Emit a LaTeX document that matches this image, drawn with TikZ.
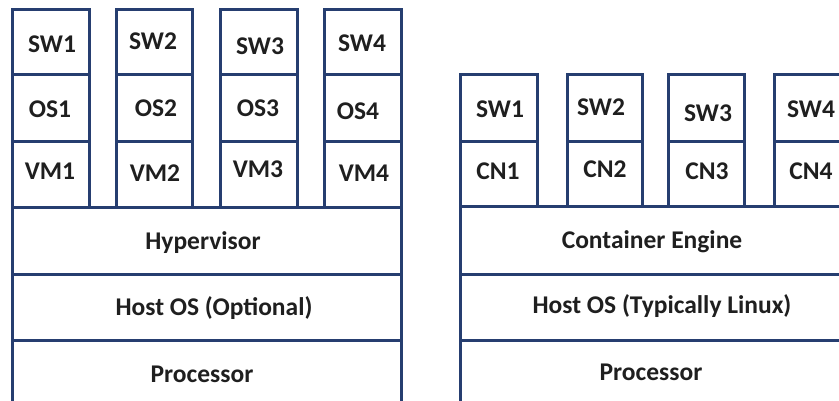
\documentclass[tikz,border=0pt]{standalone}
\usepackage{fontspec}
\setmainfont{Carlito}
\definecolor{navy}{RGB}{38,62,112}
\tikzset{
  box/.style={draw=navy, line width=3pt, inner sep=0pt, fill=none},
  lbl/.style={anchor=base, inner sep=0pt, text=black!88,
    font=\fontsize{25.5}{25.5}\selectfont\bfseries},
}
% box from corner (x1,y1) to (x2,y2), y measured downwards
\newcommand{\layerbox}[5]{%
  \node[box, minimum width={#4-#2}, minimum height={#5-#3}]
    (#1) at ({(#2+#4)/2},{(#3+#5)/2}) {};}
\begin{document}
\begin{tikzpicture}[x=1pt,y=-1pt]
\useasboundingbox (0,0) rectangle (839,401);
\clip (0,0) rectangle (839,401);
\fill[white] (0,0) rectangle (839,401);

% ---------- virtual machines ----------
\layerbox{vsw1}{12}{10}{89}{75}
\layerbox{vos1}{12}{75}{89}{142}
\layerbox{vvm1}{12}{142}{89}{208}
\layerbox{vsw2}{116}{10}{192}{75}
\layerbox{vos2}{116}{75}{192}{142}
\layerbox{vvm2}{116}{142}{192}{208}
\layerbox{vsw3}{220}{10}{297}{75}
\layerbox{vos3}{220}{75}{297}{142}
\layerbox{vvm3}{220}{142}{297}{208}
\layerbox{vsw4}{324}{10}{401}{75}
\layerbox{vos4}{324}{75}{401}{142}
\layerbox{vvm4}{324}{142}{401}{208}
\layerbox{hyp}{12}{208}{401}{274}
\layerbox{vhost}{12}{274}{401}{340}
\layerbox{vcpu}{12}{340}{401}{420}

\node[lbl] (tvsw1) at (52,53) {SW1};
\node[lbl] (tvsw2) at (153,50) {SW2};
\node[lbl] (tvsw3) at (260,55) {SW3};
\node[lbl] (tvsw4) at (362,52) {SW4};
\node[lbl] (tvos1) at (50,118) {OS1};
\node[lbl] (tvos2) at (156,117) {OS2};
\node[lbl] (tvos3) at (258,117) {OS3};
\node[lbl] (tvos4) at (358,120) {OS4};
\node[lbl] (tvvm1) at (50,180) {VM1};
\node[lbl] (tvvm2) at (155,182) {VM2};
\node[lbl] (tvvm3) at (258,178) {VM3};
\node[lbl] (tvvm4) at (364,182) {VM4};
\node[lbl] (thyp) at (203,250) {Hypervisor};
\node[lbl] (tvhost) at (214,316) {Host OS (Optional)};
\node[lbl] (tvcpu) at (202,382) {Processor};

% ---------- containers ----------
\layerbox{csw1}{460}{75}{537}{142}
\layerbox{ccn1}{460}{142}{537}{207}
\layerbox{csw2}{567}{75}{642}{142}
\layerbox{ccn2}{567}{142}{642}{207}
\layerbox{csw3}{668}{75}{744}{142}
\layerbox{ccn3}{668}{142}{744}{207}
\layerbox{csw4}{774}{75}{851}{142}
\layerbox{ccn4}{774}{142}{851}{207}
\layerbox{eng}{460}{207}{851}{274}
\layerbox{chost}{460}{274}{851}{340}
\layerbox{ccpu}{460}{340}{851}{420}

\node[lbl] (tcsw1) at (500,118) {SW1};
\node[lbl] (tcsw2) at (601,116) {SW2};
\node[lbl] (tcsw3) at (708,122) {SW3};
\node[lbl] (tcsw4) at (811,118) {SW4};
\node[lbl] (tccn1) at (498,180) {CN1};
\node[lbl] (tccn2) at (605,178) {CN2};
\node[lbl] (tccn3) at (707,180) {CN3};
\node[lbl] (tccn4) at (811,180) {CN4};
\node[lbl] (teng) at (652,248) {Container Engine};
\node[lbl] (tchost) at (662,313) {Host OS (Typically Linux)};
\node[lbl] (tccpu) at (651,380) {Processor};
\end{tikzpicture}
\end{document}
